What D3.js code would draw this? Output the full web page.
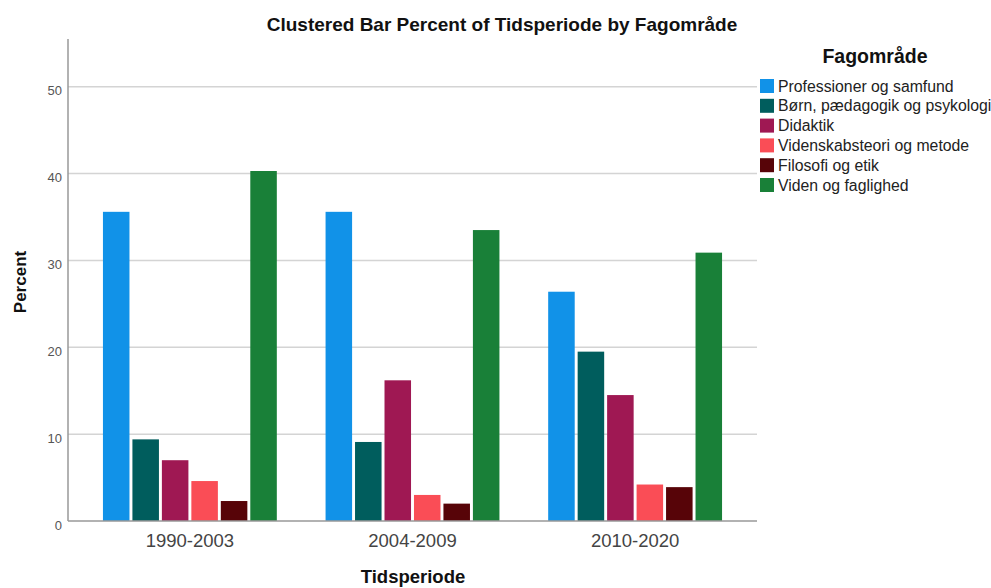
<!DOCTYPE html>
<html>
<head>
<meta charset="UTF-8">
<title>Clustered Bar Percent of Tidsperiode by Fagområde</title>
<script src="https://cdn.jsdelivr.net/npm/d3@7"></script>
<style>
  body { margin: 0; background: #fff; }
  text { font-family: "Liberation Sans", Arial, sans-serif; }
</style>
</head>
<body>
<div id="chart"></div>
<script>
// periods on the x axis
var periods = ["1990-2003", "2004-2009", "2010-2020"];
// subject areas (legend order)
var areas = ["Professioner og samfund", "Børn, pædagogik og psykologi", "Didaktik",
             "Videnskabsteori og metode", "Filosofi og etik", "Viden og faglighed"];
// percent per area, one value per period
var profValues    = [35.6, 35.6, 26.4];
var bornValues    = [9.4, 9.1, 19.5];
var didValues     = [7.0, 16.2, 14.5];
var videnskValues = [4.6, 3.0, 4.2];
var filoValues    = [2.3, 2.0, 3.9];
var videnValues   = [40.3, 33.5, 30.9];
var yTicks = [0, 10, 20, 30, 40, 50];

var colors = ["#1192e8", "#005d5d", "#9f1853", "#fa4d56", "#570408", "#198038"];
var series = [profValues, bornValues, didValues, videnskValues, filoValues, videnValues];

var width = 991, height = 588;
// plot area (note: "top" is reserved on window, so use m-prefixed names)
var mLeft = 68, mRight = 757, mTop = 39, mBottom = 521;

var svg = d3.select("#chart").append("svg")
    .attr("width", width)
    .attr("height", height);

var x0 = d3.scaleBand().domain(periods).range([mLeft, mRight])
    .paddingInner(0.219).paddingOuter(0.157);
var x1 = d3.scaleBand().domain(areas).range([0, x0.bandwidth()])
    .paddingInner(0.1).paddingOuter(0);
var y = d3.scaleLinear().domain([0, 55.5]).range([mBottom, mTop]);

// grid lines
svg.append("g").selectAll("line")
    .data(yTicks.filter(function(d){ return d > 0; }))
    .enter().append("line")
    .attr("x1", mLeft).attr("x2", mRight)
    .attr("y1", function(d){ return y(d); })
    .attr("y2", function(d){ return y(d); })
    .attr("stroke", "#d4d4d4")
    .attr("stroke-width", 1.5);

// bars
var rows = [];
periods.forEach(function(p, i){
  areas.forEach(function(a, j){
    rows.push({period: p, area: a, value: series[j][i], color: colors[j]});
  });
});
svg.append("g").selectAll("rect")
    .data(rows)
    .enter().append("rect")
    .attr("x", function(d){ return x0(d.period) + x1(d.area); })
    .attr("y", function(d){ return y(d.value); })
    .attr("width", x1.bandwidth())
    .attr("height", function(d){ return y(0) - y(d.value); })
    .attr("fill", function(d){ return d.color; });

// y axis
var yAxis = svg.append("g")
    .attr("transform", "translate(" + mLeft + ",0)")
    .call(d3.axisLeft(y).tickValues(yTicks).tickSize(0).tickPadding(6));
yAxis.select(".domain").attr("stroke", "#999").attr("stroke-width", 1.5)
    .attr("d", "M0," + mTop + "V" + mBottom);
yAxis.selectAll("text").attr("font-size", 13).attr("fill", "#555")
    .attr("dy", "0.62em")
    .style("font-family", "Liberation Sans, Arial, sans-serif");

// x axis
var xAxis = svg.append("g")
    .attr("transform", "translate(0," + mBottom + ")")
    .call(d3.axisBottom(x0).tickSize(0).tickPadding(13));
xAxis.select(".domain").attr("stroke", "#999").attr("stroke-width", 1.5)
    .attr("d", "M" + mLeft + ",0H" + mRight);
xAxis.selectAll("text").attr("font-size", 18.5).attr("fill", "#444")
    .style("font-family", "Liberation Sans, Arial, sans-serif");

// title
svg.append("text")
    .attr("x", 502).attr("y", 31)
    .attr("text-anchor", "middle")
    .attr("font-size", 19).attr("font-weight", "bold")
    .attr("fill", "#111")
    .text("Clustered Bar Percent of Tidsperiode by Fagområde");

// axis titles
svg.append("text")
    .attr("transform", "translate(26,282) rotate(-90)")
    .attr("text-anchor", "middle")
    .attr("font-size", 17).attr("font-weight", "bold")
    .attr("fill", "#111")
    .text("Percent");
svg.append("text")
    .attr("x", 413).attr("y", 583)
    .attr("text-anchor", "middle")
    .attr("font-size", 18.5).attr("font-weight", "bold")
    .attr("fill", "#111")
    .text("Tidsperiode");

// legend
var legend = svg.append("g");
legend.append("text")
    .attr("x", 875).attr("y", 63)
    .attr("text-anchor", "middle")
    .attr("font-size", 19.5).attr("font-weight", "bold")
    .attr("fill", "#111")
    .text("Fagområde");
var item = legend.selectAll("g.item")
    .data(areas)
    .enter().append("g")
    .attr("class", "item")
    .attr("transform", function(d, i){ return "translate(760," + (79 + i * 19.8) + ")"; });
item.append("rect")
    .attr("width", 14).attr("height", 14)
    .attr("fill", function(d, i){ return colors[i]; });
item.append("text")
    .attr("x", 18).attr("y", 12.5)
    .attr("font-size", 15.8)
    .attr("fill", "#222")
    .text(function(d){ return d; });
</script>
</body>
</html>
